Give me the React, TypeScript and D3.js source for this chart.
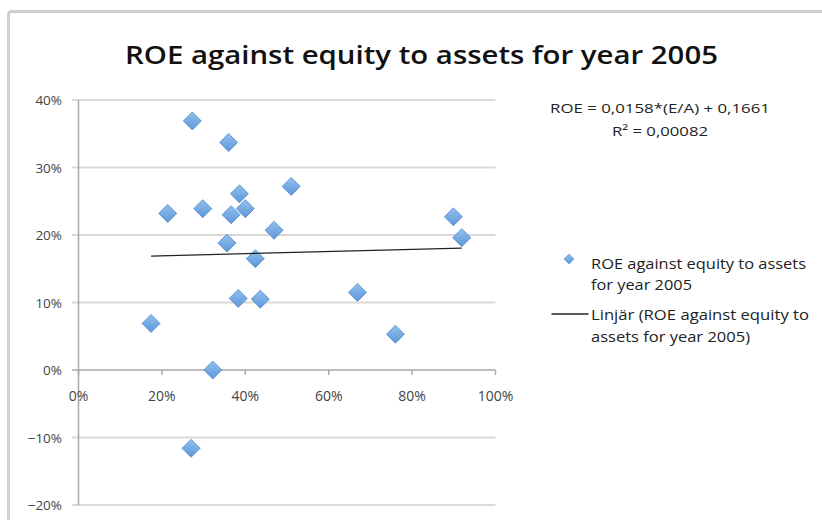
import React from "react";
import * as d3 from "d3";

const equityToAssets = [0.273, 0.360, 0.214, 0.298, 0.386, 0.366, 0.400, 0.356, 0.469, 0.424, 0.383, 0.436, 0.510, 0.899, 0.919, 0.669, 0.174, 0.322, 0.760, 0.270];
const roe = [0.369, 0.337, 0.232, 0.239, 0.261, 0.230, 0.239, 0.188, 0.207, 0.165, 0.106, 0.105, 0.272, 0.227, 0.196, 0.115, 0.069, 0.0, 0.053, -0.116];
const xTicks = [0, 0.2, 0.4, 0.6, 0.8, 1.0];
const yTicks = [-0.2, -0.1, 0, 0.1, 0.2, 0.3, 0.4];
const trendSlope = 0.0158;
const trendIntercept = 0.1661;
const titleText = "ROE against equity to assets for year 2005";
const equationText = "ROE = 0,0158*(E/A) + 0,1661";
const r2Text = "R² = 0,00082";
const legendSeries = ["ROE against equity to assets", "for year 2005"];
const legendTrend = ["Linjär (ROE against equity to", "assets for year 2005)"];

const FONT = "'Open Sans', Lato, sans-serif";
const seriesWidths = [215, 101];
const trendWidths = [218, 159];

export default function App() {
  const x = d3.scaleLinear().domain([0, 1]).range([78.5, 495.5]);
  const y = d3.scaleLinear().domain([-0.2, 0.4]).range([505, 100]);
  const fmt = d3.format(".0%");
  const xMin = d3.min(equityToAssets) as number;
  const xMax = d3.max(equityToAssets) as number;
  const line = d3.line<number>().x((d) => x(d)).y((d) => y(trendSlope * d + trendIntercept));
  const diamond = (r: number) => `M0,${-r}L${r},0L0,${r}L${-r},0Z`;

  return (
    <svg width={822} height={520} style={{ position: "absolute", left: 0, top: 0, background: "#fff" }} fontFamily={FONT}>
      <defs>
        <linearGradient id="dg" x1="0" y1="0" x2="0" y2="1">
          <stop offset="0%" stopColor="#90c0ee" />
          <stop offset="100%" stopColor="#5e97d8" />
        </linearGradient>
      </defs>
      <rect x={8.5} y={11.5} width={840} height={540} rx={3} fill="#fff" stroke="#cfcfcf" strokeWidth={3} />
      <text x={421.5} y={64} textAnchor="middle" fontSize={25} fontWeight={600} fill="#111" textLength={593} lengthAdjust="spacingAndGlyphs">{titleText}</text>

      {yTicks.map((t) => (
        <g key={t}>
          <line x1={72} x2={495.5} y1={y(t)} y2={y(t)} stroke={t === 0 ? "#a9a9a9" : "#d9d9d9"} strokeWidth={t === 0 ? 1.5 : 2} />
          <text x={62} y={y(t) + 5} textAnchor="end" fontSize={13.5} fill="#444">{fmt(t)}</text>
        </g>
      ))}
      <line x1={x(0)} x2={x(0)} y1={y(0.4)} y2={y(-0.2)} stroke="#a9a9a9" strokeWidth={1.5} />
      {xTicks.map((t) => (
        <g key={t}>
          <line x1={x(t)} x2={x(t)} y1={y(0)} y2={y(0) + 5} stroke="#a9a9a9" strokeWidth={1.5} />
          <text x={x(t)} y={401} textAnchor="middle" fontSize={14} fill="#444">{fmt(t)}</text>
        </g>
      ))}

      {equityToAssets.map((v, i) => (
        <path key={i} d={diamond(9)} transform={`translate(${x(v)},${y(roe[i])})`} fill="url(#dg)" stroke="#5089c8" strokeWidth={0.8} />
      ))}
      <path d={line([xMin, xMax]) as string} fill="none" stroke="#222" strokeWidth={1.3} />

      <text x={660} y={113} textAnchor="middle" fontSize={13.5} fill="#222" textLength={220} lengthAdjust="spacingAndGlyphs">{equationText}</text>
      <text x={660} y={136} textAnchor="middle" fontSize={13.5} fill="#222" textLength={96} lengthAdjust="spacingAndGlyphs">{r2Text}</text>

      <path d={diamond(5)} transform="translate(569,259)" fill="url(#dg)" stroke="#5089c8" strokeWidth={0.6} />
      {legendSeries.map((s, i) => (
        <text key={s} x={591} y={268.5 + i * 21.5} fontSize={14} fill="#222" textLength={seriesWidths[i]} lengthAdjust="spacingAndGlyphs">{s}</text>
      ))}
      <line x1={551.5} x2={588.5} y1={314} y2={314} stroke="#222" strokeWidth={1.3} />
      {legendTrend.map((s, i) => (
        <text key={s} x={591} y={319.5 + i * 22.5} fontSize={14} fill="#222" textLength={trendWidths[i]} lengthAdjust="spacingAndGlyphs">{s}</text>
      ))}
    </svg>
  );
}
